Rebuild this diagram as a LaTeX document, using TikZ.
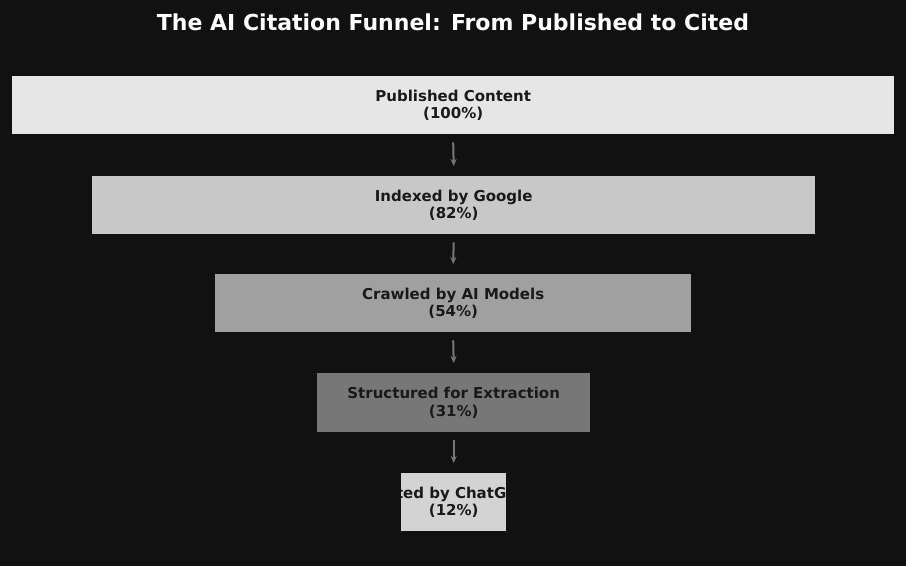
\documentclass[tikz,border=0pt]{standalone}
\usepackage{fontspec}
\setmainfont{DejaVu Sans}
\usetikzlibrary{arrows.meta}
\definecolor{bg}{HTML}{111111}
\definecolor{cA}{HTML}{E6E6E6}
\definecolor{cB}{HTML}{C8C8C8}
\definecolor{cC}{HTML}{A0A0A0}
\definecolor{cD}{HTML}{777777}
\definecolor{cE}{HTML}{D3D3D3}
\tikzset{
  fbox/.style={draw=none,inner sep=0pt,anchor=north west},
  lbl/.style={font=\bfseries\fontsize{15}{17.5}\selectfont,align=center,text=black!90},
  arr/.style={-{Stealth[length=7pt,width=6pt]},draw=cD,line width=2pt}
}
\begin{document}
\begin{tikzpicture}[x=1pt,y=-1pt]
\fill[bg] (0,0) rectangle (906,566);
\useasboundingbox (0,0) rectangle (906,566);
\node[text=white,font=\bfseries\fontsize{22}{24}\selectfont] (title) at (453,22) {The AI Citation Funnel: From Published to Cited};
\node[fbox,fill=cA,minimum width=882pt,minimum height=58pt] (b1) at (12,76) {};
\node[fbox,fill=cB,minimum width=723pt,minimum height=58pt] (b2) at (92,176) {};
\node[fbox,fill=cC,minimum width=476pt,minimum height=58pt] (b3) at (215,274) {};
\node[fbox,fill=cD,minimum width=273pt,minimum height=59pt] (b4) at (317,373) {};
\node[fbox,fill=cE,minimum width=105pt,minimum height=58pt] (b5) at (401,473) {};
\node[lbl] at (b1.center) {Published Content\\(100\%)};
\node[lbl] at (b2.center) {Indexed by Google\\(82\%)};
\node[lbl] at (b3.center) {Crawled by AI Models\\(54\%)};
\node[lbl] at (b4.center) {Structured for Extraction\\(31\%)};
\begin{scope}
\clip (401,473) rectangle (506,531);
\node[lbl] at (b5.center) {Cited by ChatGPT\\(12\%)};
\end{scope}
\draw[arr] ([yshift=-8pt]b1.south) -- ([yshift=10pt]b2.north);
\draw[arr] ([yshift=-8pt]b2.south) -- ([yshift=10pt]b3.north);
\draw[arr] ([yshift=-8pt]b3.south) -- ([yshift=10pt]b4.north);
\draw[arr] ([yshift=-8pt]b4.south) -- ([yshift=10pt]b5.north);
\end{tikzpicture}
\end{document}
